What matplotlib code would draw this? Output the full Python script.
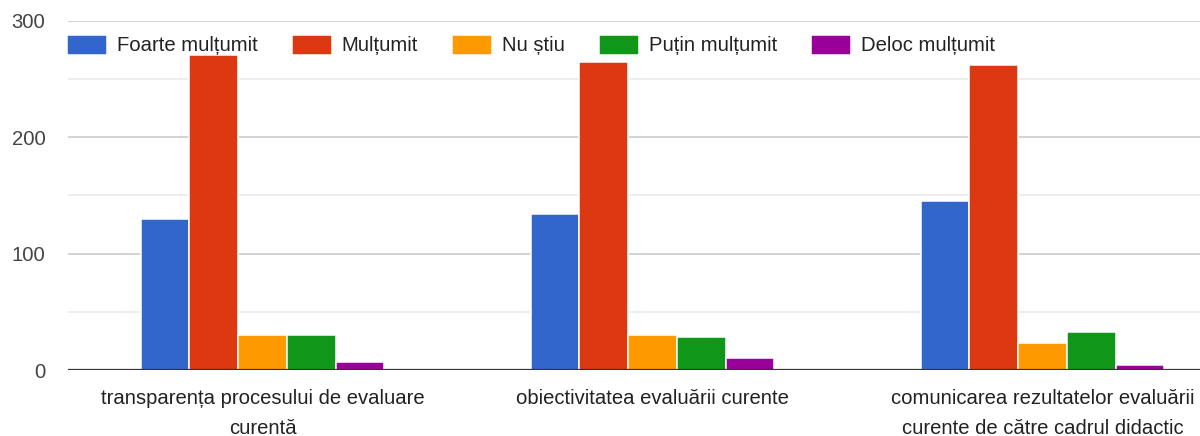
import numpy as np
import matplotlib

matplotlib.use("Agg")
import matplotlib.pyplot as plt

plt.rcParams["font.family"] = ["Liberation Sans", "DejaVu Sans"]

categories = [
    "transparența procesului de evaluare\ncurentă",
    "obiectivitatea evaluării curente",
    "comunicarea rezultatelor evaluării\ncurente de către cadrul didactic",
]
series_names = ["Foarte mulțumit", "Mulțumit", "Nu știu", "Puțin mulțumit", "Deloc mulțumit"]
foarte = [130, 134, 145]
multumit = [271, 265, 262]
nu_stiu = [30, 30, 23]
putin = [30, 28, 33]
deloc = [7, 10, 4]
colors = ["#3366CC", "#DC3912", "#FF9900", "#109618", "#990099"]
yticks = [0, 100, 200, 300]
yminor = [50, 150, 250]

series = [foarte, multumit, nu_stiu, putin, deloc]

W, H = 1200, 436
fs = 14.6
fig = plt.figure(figsize=(W / 100, H / 100), dpi=100)
# axes reaches past the right edge, like the cropped original
left_px, right_px = 67.5, 1237.5
ax = fig.add_axes([left_px / W, (H - 370) / H, (right_px - left_px) / W, (370 - 21) / H])

x = np.arange(len(categories))
bw = 0.125
for i, (vals, name, c) in enumerate(zip(series, series_names, colors)):
    ax.bar(x + (i - 2) * bw, vals, width=bw, color=c, edgecolor="white",
           linewidth=1.1, label=name, zorder=2)

ax.set_xlim(-0.5, 2.5)
ax.set_ylim(0, 300)
ax.set_yticks(yticks)
ax.set_yticks(yminor, minor=True)
ax.set_yticklabels([str(v) for v in yticks], fontsize=fs, color="#444444")
ax.set_xticks(x)
ax.set_xticklabels(categories, fontsize=fs, color="#222222", linespacing=1.7)
ax.tick_params(axis="both", which="both", length=0)
ax.tick_params(axis="y", pad=16)
ax.tick_params(axis="x", pad=14)
for s in ax.spines.values():
    s.set_visible(False)
ax.grid(axis="y", which="major", color="#CCCCCC", linewidth=1.2, zorder=0)
ax.grid(axis="y", which="minor", color="#EBEBEB", linewidth=1.2, zorder=0)
ax.set_axisbelow(True)
ax.axhline(0, color="#333333", linewidth=1.6, zorder=3)

fpx = fs * 100 / 72
fig.legend(loc="center left", bbox_to_anchor=(67 / W, (H - 45) / H), ncol=5,
           frameon=False, fontsize=fs, handlelength=40 / fpx, handleheight=1.14,
           handletextpad=10 / fpx, columnspacing=34 / fpx, borderpad=0,
           borderaxespad=0, labelcolor="#222222")

fig.savefig("out.png", dpi=100)
plt.close(fig)
